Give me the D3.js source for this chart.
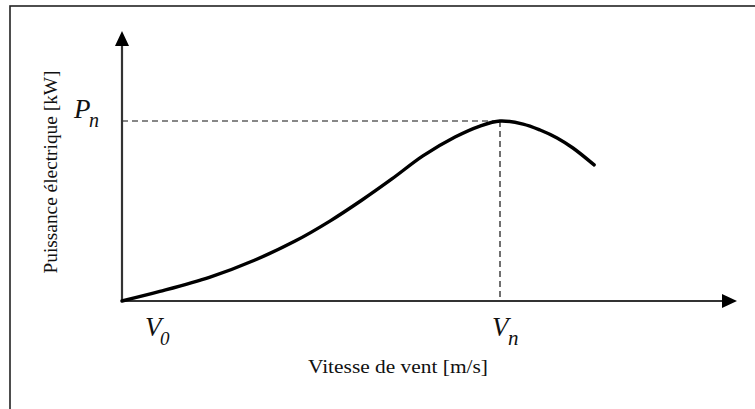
<!DOCTYPE html>
<html>
<head>
<meta charset="utf-8">
<script src="https://cdn.jsdelivr.net/npm/d3@7"></script>
<style>
  html, body { margin: 0; padding: 0; background: #fff; }
  svg { display: block; }
  text { font-family: "Liberation Serif", "DejaVu Serif", serif; fill: #111; }
</style>
</head>
<body>
<svg width="755" height="409"></svg>
<script>
// wind speed in units of Vn (V0 = 0, Vn = 1), power in units of Pn
var speed = [0, 0.100, 0.233, 0.352, 0.458, 0.550, 0.635, 0.714, 0.796, 0.881, 0.947, 1, 1.061, 1.106, 1.151, 1.193, 1.249];
var power = [0, 0.053, 0.133, 0.228, 0.333, 0.444, 0.561, 0.678, 0.806, 0.911, 0.972, 1, 0.983, 0.95, 0.906, 0.85, 0.756];
var xTicks = [{v: 0, main: "V", sub: "0"}, {v: 1, main: "V", sub: "n"}];
var yTicks = [{p: 1, main: "P", sub: "n"}];
var xTitle = "Vitesse de vent [m/s]";
var yTitle = "Puissance électrique [kW]";
var xMax = 1.627, yMax = 1.5;

var svg = d3.select("svg");

// outer frame (runs off right and bottom edge)
svg.append("rect")
    .attr("x", 10).attr("y", 6)
    .attr("width", 800).attr("height", 450)
    .attr("fill", "none")
    .attr("stroke", "#222")
    .attr("stroke-width", 1.6);

var x = d3.scaleLinear().domain([0, 1]).range([122, 500]);
var y = d3.scaleLinear().domain([0, 1]).range([301, 121]);

var data = speed.map(function(d, i) { return {v: d, p: power[i]}; });

// dashed guides to the nominal point
svg.append("line")
    .attr("x1", x(0)).attr("x2", x(1))
    .attr("y1", y(1)).attr("y2", y(1))
    .attr("stroke", "#111").attr("stroke-width", 1.2)
    .attr("stroke-dasharray", "6,4");
svg.append("line")
    .attr("x1", x(1)).attr("x2", x(1))
    .attr("y1", y(1)).attr("y2", y(0))
    .attr("stroke", "#111").attr("stroke-width", 1.2)
    .attr("stroke-dasharray", "6,4");

// axes with arrow heads
svg.append("line")
    .attr("x1", x(0)).attr("x2", x(xMax) - 10)
    .attr("y1", y(0)).attr("y2", y(0))
    .attr("stroke", "#333").attr("stroke-width", 2.2);
svg.append("line")
    .attr("x1", x(0)).attr("x2", x(0))
    .attr("y1", y(0)).attr("y2", y(yMax) + 10)
    .attr("stroke", "#333").attr("stroke-width", 2.2);

svg.append("path")
    .attr("d", "M" + x(xMax) + "," + y(0) + " l-15,-7 l0,14 z")
    .attr("fill", "#000");
svg.append("path")
    .attr("d", "M" + x(0) + "," + y(yMax) + " l-7,15 l14,0 z")
    .attr("fill", "#000");

// power curve
var line = d3.line()
    .x(function(d) { return x(d.v); })
    .y(function(d) { return y(d.p); })
    .curve(d3.curveCatmullRom.alpha(0.5));

svg.append("path")
    .datum(data)
    .attr("d", line)
    .attr("fill", "none")
    .attr("stroke", "#000")
    .attr("stroke-width", 3.4)
    .attr("stroke-linecap", "round");

// tick labels with subscripts (separate texts)
var xShift = [23, -8];
xTicks.forEach(function(t, i) {
    var x0 = x(t.v) + xShift[i];
    svg.append("text")
        .attr("x", x0).attr("y", 336)
        .style("font-style", "italic")
        .style("font-size", "27px")
        .text(t.main);
    svg.append("text")
        .attr("x", x0 + (t.sub === "0" ? 15 : 16)).attr("y", 345)
        .style("font-style", "italic")
        .style("font-size", t.sub === "0" ? "19px" : "21px")
        .text(t.sub);
});

yTicks.forEach(function(t) {
    svg.append("text")
        .attr("x", 74).attr("y", y(t.p) - 3)
        .style("font-style", "italic")
        .style("font-size", "27px")
        .text(t.main);
    svg.append("text")
        .attr("x", 89).attr("y", y(t.p) + 6)
        .style("font-style", "italic")
        .style("font-size", "20px")
        .text(t.sub);
});

// axis titles
svg.append("text")
    .attr("x", 398).attr("y", 373)
    .attr("text-anchor", "middle")
    .attr("textLength", 180)
    .attr("lengthAdjust", "spacingAndGlyphs")
    .style("font-size", "19px")
    .text(xTitle);

svg.append("text")
    .attr("transform", "translate(57,172) rotate(-90)")
    .attr("text-anchor", "middle")
    .attr("textLength", 203)
    .attr("lengthAdjust", "spacingAndGlyphs")
    .style("font-size", "18px")
    .text(yTitle);
</script>
</body>
</html>
